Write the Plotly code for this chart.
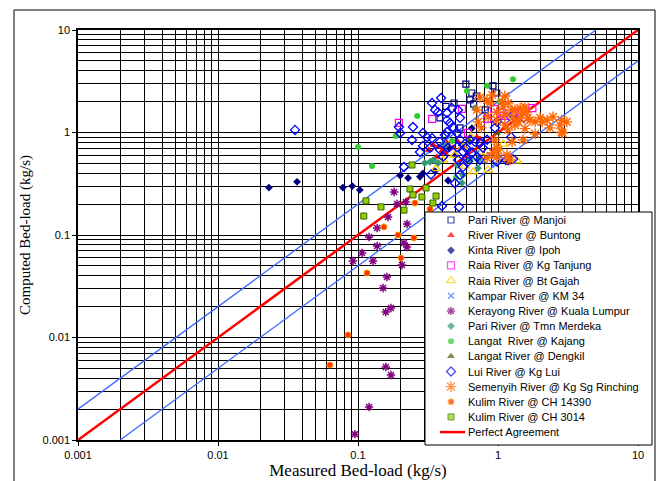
import plotly.graph_objects as go

# ---------------- data (kg/s) ----------------
manjoi_x = [0.59, 0.65, 0.70, 0.63, 0.67, 0.485, 0.425, 0.92, 0.98, 0.385, 0.81, 0.535]
manjoi_y = [2.97, 2.43, 2.27, 2.08, 1.90, 1.94, 1.80, 2.85, 2.43, 1.39, 1.66, 1.11]

buntong_x = [0.345, 0.373, 0.398, 0.432, 0.477, 0.51, 0.418, 0.708, 0.744, 0.32, 0.553, 0.366]
buntong_y = [0.755, 0.72, 0.66, 0.79, 0.71, 0.83, 0.63, 0.90, 0.865, 0.675, 0.74, 0.577]

kinta_x = [0.0231, 0.0367, 0.078, 0.091, 0.103, 0.20, 0.228, 0.277, 0.291, 0.355, 0.44, 0.493, 0.45, 0.55, 0.65, 1.18]
kinta_y = [0.29, 0.33, 0.29, 0.30, 0.275, 0.38, 0.36, 0.37, 0.40, 0.42, 0.34, 0.60, 0.70, 0.75, 1.1, 0.52]

tanjung_x = [0.196, 0.338, 0.553, 0.61, 0.835, 0.94, 1.07, 1.32, 1.76, 1.10]
tanjung_y = [1.24, 1.36, 1.70, 0.99, 1.36, 1.70, 1.55, 1.58, 1.73, 1.45]

gajah_x = [0.64, 0.562, 0.405, 0.36, 0.58, 0.663, 0.85, 1.09, 1.37, 0.49, 0.744]
gajah_y = [0.90, 0.722, 0.539, 0.445, 0.47, 0.412, 0.431, 0.77, 0.53, 0.60, 0.645]

kampar_x = [0.877, 0.78, 0.63, 0.95, 0.70, 1.05]
kampar_y = [0.603, 0.54, 0.675, 0.50, 0.62, 0.58]

kerayong_x = [0.181, 0.190, 0.220, 0.164, 0.224, 0.137, 0.120, 0.137, 0.107, 0.092, 0.128,
              0.213, 0.224, 0.206, 0.161, 0.151, 0.158, 0.172, 0.158, 0.172, 0.120, 0.095]
kerayong_y = [0.263, 0.201, 0.210, 0.150, 0.128, 0.117, 0.0955, 0.078, 0.0667, 0.0557, 0.0557,
              0.0836, 0.0764, 0.051, 0.0389, 0.0304, 0.0177, 0.0194, 0.00515, 0.0043, 0.0021, 0.00114]

merdeka_x = [0.30, 0.327, 0.345, 0.373, 0.51, 0.553, 0.562, 0.63, 0.72, 0.72, 0.685, 0.418]
merdeka_y = [0.504, 0.516, 0.539, 0.504, 0.482, 0.322, 0.385, 0.539, 0.539, 0.45, 1.73, 0.755]

kajang_x = [1.28, 0.835, 0.60, 0.265, 0.186, 0.469, 0.50, 0.126, 0.10, 1.03]
kajang_y = [3.3, 2.86, 2.54, 1.45, 0.925, 0.826, 0.36, 0.47, 0.72, 2.0]

dengkil_x = [0.98, 0.62]
dengkil_y = [0.99, 0.83]

lui_x = [0.0355, 0.196, 0.200, 0.213, 0.247, 0.291, 0.311, 0.338, 0.392, 0.355, 0.373, 0.432,
         0.469, 0.518, 0.432, 0.454, 0.477, 0.432, 0.510, 0.535, 0.338, 0.385, 0.291, 0.327,
         0.385, 0.439, 0.510, 0.562, 0.652, 0.405, 0.518, 0.601, 0.708, 0.562, 0.493, 0.535,
         0.398, 0.527, 0.744, 0.835, 0.984, 1.12, 0.952, 1.28, 1.53, 1.24, 1.28, 1.14, 0.61,
         0.744, 0.984, 0.685, 0.78, 0.332, 0.277, 0.243, 0.535, 0.418, 0.63, 0.59]
lui_y = [1.06, 1.13, 0.99, 0.46, 1.13, 0.99, 0.90, 1.94, 2.17, 1.66, 1.58, 1.55,
         1.73, 1.66, 1.32, 1.24, 1.13, 1.01, 0.99, 0.85, 0.88, 0.81, 0.74, 0.71,
         0.68, 0.71, 0.72, 0.65, 0.63, 0.58, 0.54, 0.56, 0.58, 0.46, 0.32, 0.385,
         0.192, 0.188, 0.79, 0.85, 1.27, 1.32, 1.11, 1.48, 1.39, 0.90, 0.55, 0.54, 0.52,
         0.54, 0.52, 0.81, 0.71, 0.39, 0.645, 0.845, 1.39, 0.945, 0.85, 0.71]

semenyih_x = [0.744, 0.91, 0.835, 0.877, 1.07, 0.708, 1.09, 1.18, 1.26, 1.44, 1.56, 1.12,
              1.28, 1.40, 1.51, 1.69, 1.84, 2.0, 2.24, 2.47, 2.85, 2.85, 2.35, 1.56, 1.12,
              0.98, 0.98, 0.85, 0.72, 0.76, 1.12, 1.32, 1.61, 1.44, 1.63, 2.07, 2.77, 3.1,
              2.9, 1.84, 1.51, 1.32, 1.18, 1.26, 0.95, 0.92, 0.98, 1.16, 1.18, 0.98, 0.835,
              1.22, 1.0]
semenyih_y = [2.20, 2.32, 2.08, 1.94, 1.99, 1.66, 1.78, 1.94, 1.66, 1.73, 1.78, 1.48,
              1.39, 1.27, 1.55, 1.32, 1.27, 1.39, 1.32, 1.42, 1.32, 1.01, 1.11, 1.09, 1.18,
              1.32, 1.58, 1.42, 1.27, 1.11, 2.27, 1.66, 1.58, 1.39, 1.39, 1.27, 1.18, 1.27,
              0.99, 0.97, 0.845, 1.18, 1.06, 0.81, 0.845, 0.63, 0.577, 0.603, 0.564, 0.706, 0.564,
              0.539, 0.675]

kulim14390_x = [0.153, 0.193, 0.251, 0.203, 0.116, 0.0849, 0.063, 0.255, 0.327]
kulim14390_y = [0.120, 0.100, 0.0935, 0.0597, 0.0426, 0.0106, 0.0054, 0.205, 0.179]

kulim3014_x = [0.110, 0.114, 0.146, 0.213, 0.235, 0.247, 0.243, 0.286, 0.306, 0.343, 0.361]
kulim3014_y = [0.153, 0.215, 0.188, 0.175, 0.281, 0.246, 0.482, 0.235, 0.288, 0.205, 0.240]

perfect_x = [0.001, 10]
perfect_y = [0.001, 10]
upper_x = [0.001, 5]
upper_y = [0.002, 10]
lower_x = [0.002, 10]
lower_y = [0.001, 5]

tick_vals = [0.001, 0.01, 0.1, 1, 10]
tick_text = ["0.001", "0.01", "0.1", "1", "10"]

# ---------------- layout geometry (pixels of the 663x481 page) ----------------
W, H = 663, 481
PL, PR, PT, PB = 78, 638, 30, 440          # plot area edges
LOG_MIN, LOG_MAX = -3, 1


def paper_x(px):
    return (px - PL) / (PR - PL)


def paper_y(py):
    return (PB - py) / (PB - PT)


def data_x(px):
    return 10 ** (LOG_MIN + (LOG_MAX - LOG_MIN) * paper_x(px))


def data_y(py):
    return 10 ** (LOG_MIN + (LOG_MAX - LOG_MIN) * paper_y(py))


# custom legend box geometry
LG_L, LG_R, LG_T, LG_B = 425, 652, 212, 445
LG_FIRST, LG_STEP = 220, 15.15
LG_MARK_X, LG_TEXT_X = 451, 466

fig = go.Figure()

fig.add_trace(go.Scatter(x=upper_x, y=upper_y, mode="lines", line=dict(color="#3A6BFF", width=1.3),
                         showlegend=False, hoverinfo="skip"))
fig.add_trace(go.Scatter(x=lower_x, y=lower_y, mode="lines", line=dict(color="#3A6BFF", width=1.3),
                         showlegend=False, hoverinfo="skip"))
fig.add_trace(go.Scatter(x=perfect_x, y=perfect_y, mode="lines", name="Perfect Agreement",
                         line=dict(color="#FF0000", width=2.5), showlegend=False))

series = [
    ("Pari River @ Manjoi", manjoi_x, manjoi_y, dict(symbol="square-open", size=6, color="#000080", line=dict(width=1.2, color="#000080"))),
    ("River River @ Buntong", buntong_x, buntong_y, dict(symbol="triangle-up", size=7, color="#FF0000", line=dict(width=0, color="#FF0000"))),
    ("Kinta River @ Ipoh", kinta_x, kinta_y, dict(symbol="diamond", size=6, color="#000080", line=dict(width=0, color="#000080"))),
    ("Raia River @ Kg Tanjung", tanjung_x, tanjung_y, dict(symbol="square-open", size=7, color="#FF00FF", line=dict(width=1.2, color="#FF00FF"))),
    ("Raia River @ Bt Gajah", gajah_x, gajah_y, dict(symbol="triangle-up-open", size=8, color="#FFCC00", line=dict(width=1.3, color="#FFCC00"))),
    ("Kampar River @ KM 34", kampar_x, kampar_y, dict(symbol="x-thin-open", size=6, color="#3366FF", line=dict(width=1.3, color="#3366FF"))),
    ("Kerayong River @ Kuala Lumpur", kerayong_x, kerayong_y, dict(symbol="asterisk-open", size=7, color="#800080", line=dict(width=1.5, color="#800080"))),
    ("Pari River @ Tmn Merdeka", merdeka_x, merdeka_y, dict(symbol="diamond", size=6, color="#339977", line=dict(width=0, color="#339977"))),
    ("Langat  River @ Kajang", kajang_x, kajang_y, dict(symbol="circle", size=6, color="#33CC33", line=dict(width=0, color="#33CC33"))),
    ("Langat River @ Dengkil", dengkil_x, dengkil_y, dict(symbol="triangle-up", size=7, color="#555500", line=dict(width=0, color="#555500"))),
    ("Lui River @ Kg Lui", lui_x, lui_y, dict(symbol="diamond-open", size=7, color="#0000FF", line=dict(width=1.3, color="#0000FF"))),
    ("Semenyih River @ Kg Sg Rinching", semenyih_x, semenyih_y, dict(symbol="asterisk-open", size=9, color="#FF6600", line=dict(width=1.4, color="#FF6600"))),
    ("Kulim River @ CH 14390", kulim14390_x, kulim14390_y, dict(symbol="circle", size=6, color="#FF3300", line=dict(width=1, color="#FF9900"))),
    ("Kulim River @ CH 3014", kulim3014_x, kulim3014_y, dict(symbol="square", size=6, color="#99CC00", line=dict(width=1, color="#336600"))),
]
for name, xs, ys, mk in series:
    fig.add_trace(go.Scatter(x=xs, y=ys, mode="markers", name=name, marker=mk, showlegend=False))

# ---- legend (drawn by hand so the row spacing matches the original) ----
fig.add_trace(go.Scatter(
    x=[data_x(LG_L), data_x(LG_R), data_x(LG_R), data_x(LG_L), data_x(LG_L)],
    y=[data_y(LG_T), data_y(LG_T), data_y(LG_B), data_y(LG_B), data_y(LG_T)],
    mode="lines", fill="toself", fillcolor="#FFFFFF", line=dict(width=0, color="#FFFFFF"),
    showlegend=False, hoverinfo="skip"))

row_py = [LG_FIRST + i * LG_STEP for i in range(len(series) + 1)]
fig.add_trace(go.Scatter(
    x=[data_x(LG_MARK_X)] * len(series),
    y=[data_y(p) for p in row_py[:len(series)]],
    mode="markers", cliponaxis=False, showlegend=False, hoverinfo="skip",
    marker=dict(symbol=[s[3]["symbol"] for s in series],
                size=[s[3]["size"] for s in series],
                color=[s[3]["color"] for s in series],
                line=dict(width=[s[3]["line"]["width"] for s in series],
                          color=[s[3]["line"]["color"] for s in series]))))

legend_labels = [s[0] for s in series] + ["Perfect Agreement"]
annotations = []
for lab, p in zip(legend_labels, row_py):
    annotations.append(dict(text=lab, xref="paper", yref="paper", x=paper_x(LG_TEXT_X), y=paper_y(p),
                            xanchor="left", yanchor="middle", showarrow=False,
                            font=dict(family="Liberation Sans, Arial", size=11, color="#000000")))

shapes = [
    # white strips where the legend box leaves the plotting area
    dict(type="rect", xref="paper", yref="paper", x0=paper_x(637.3), x1=paper_x(LG_R), y0=paper_y(LG_B), y1=paper_y(LG_T),
         line=dict(width=0), fillcolor="#FFFFFF", layer="above"),
    dict(type="rect", xref="paper", yref="paper", x0=paper_x(LG_L), x1=paper_x(LG_R), y0=paper_y(LG_B), y1=paper_y(439.2),
         line=dict(width=0), fillcolor="#FFFFFF", layer="above"),
    # legend border
    dict(type="rect", xref="paper", yref="paper", x0=paper_x(LG_L), x1=paper_x(LG_R), y0=paper_y(LG_B), y1=paper_y(LG_T),
         line=dict(color="#000000", width=1), fillcolor="rgba(0,0,0,0)", layer="above"),
    # legend sample of the red line
    dict(type="line", xref="paper", yref="paper", x0=paper_x(440), x1=paper_x(465), y0=paper_y(row_py[-1]), y1=paper_y(row_py[-1]),
         line=dict(color="#FF0000", width=2.5), layer="above"),
    # outer chart frame
    dict(type="rect", xref="paper", yref="paper", x0=paper_x(14), x1=paper_x(655), y0=paper_y(495), y1=paper_y(10),
         line=dict(color="#000000", width=1), fillcolor="rgba(0,0,0,0)", layer="above"),
]

axis_common = dict(
    type="log",
    range=[LOG_MIN, LOG_MAX],
    tickvals=tick_vals,
    ticktext=tick_text,
    showgrid=True,
    gridcolor="#000000",
    gridwidth=1,
    showline=True,
    linecolor="#000000",
    linewidth=1.5,
    mirror=True,
    layer="below traces",
    ticks="outside",
    ticklen=4,
    tickcolor="#000000",
    tickfont=dict(family="Liberation Sans, Arial", size=11, color="#000000"),
    minor=dict(showgrid=True, gridcolor="#000000", gridwidth=1, dtick="D1", ticks=""),
    zeroline=False,
)

fig.update_xaxes(**axis_common,
                 title=dict(text="Measured Bed-load (kg/s)",
                            font=dict(family="Liberation Serif, Times New Roman", size=17, color="#000000"),
                            standoff=3))
fig.update_yaxes(**axis_common,
                 title=dict(text="Computed Bed-load (kg/s)",
                            font=dict(family="Liberation Serif, Times New Roman", size=15, color="#000000"),
                            standoff=8))

fig.update_layout(
    width=W, height=H,
    margin=dict(l=PL, r=W - PR, t=PT, b=H - PB, autoexpand=False),
    paper_bgcolor="#FFFFFF",
    plot_bgcolor="#FFFFFF",
    showlegend=False,
    annotations=annotations,
    shapes=shapes,
)

fig.write_html("out.html",
               config={"displayModeBar": False},
               post_script="document.body.style.margin='0';document.body.style.padding='0';")
